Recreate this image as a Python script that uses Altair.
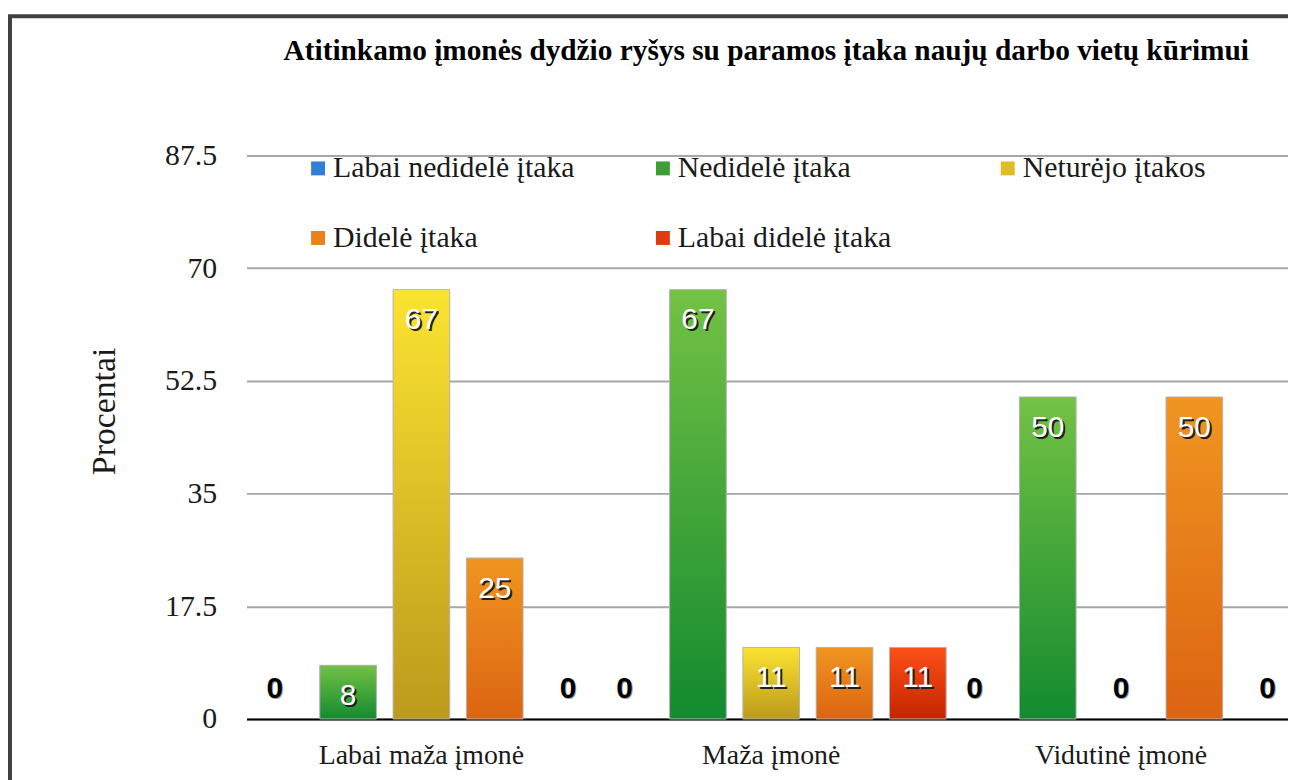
import altair as alt
import pandas as pd

groups = ["Labai maža įmonė", "Maža įmonė", "Vidutinė įmonė"]
series = ["Labai nedidelė įtaka", "Nedidelė įtaka", "Neturėjo įtakos", "Didelė įtaka", "Labai didelė įtaka"]

v_labai_nedidele = [0, 0, 0]
v_nedidele = [8.33, 66.67, 50]
v_neturejo = [66.67, 11.11, 0]
v_didele = [25, 11.11, 50]
v_labai_didele = [0, 11.11, 0]
series_values = [v_labai_nedidele, v_nedidele, v_neturejo, v_didele, v_labai_didele]

legend_colors = ["#2f7fd8", "#3c9e36", "#e0bd26", "#e8821c", "#e03a10"]
colors_top = ["#5aa0ea", "#73c244", "#fbe331", "#f09520", "#fc5018"]
colors_bottom = ["#1c5fb0", "#138a2f", "#bc9a1c", "#dc6412", "#c42400"]
y_ticks = [0, 17.5, 35, 52.5, 70, 87.5]

title_text = "Atitinkamo įmonės dydžio ryšys su paramos įtaka naujų darbo vietų kūrimui"
y_title = "Procentai"

rows = []
for s, vals in zip(series, series_values):
    for g, v in zip(groups, vals):
        rows.append({"group": g, "series": s, "value": v})
df = pd.DataFrame(rows)

SERIF = "Liberation Serif"
SANS = "Liberation Sans"

x_enc = alt.X(
    "group:N",
    sort=groups,
    title=None,
    scale=alt.Scale(domain=groups, range=[0, 1056], paddingInner=0, paddingOuter=0),
    axis=alt.Axis(
        domain=True, domainColor="#000000", domainWidth=2,
        ticks=False, tickSize=0, labelPadding=23, labelAngle=0, labelLimit=600,
        labelFont=SERIF, labelFontSize=28, labelColor="#1a1a1a", grid=False,
    ),
)
xo_enc = alt.XOffset(
    "series:N", sort=series,
    scale=alt.Scale(domain=series, paddingInner=0.227, paddingOuter=0),
)
y_enc = alt.Y(
    "value:Q",
    stack=None,
    title=y_title,
    scale=alt.Scale(domain=[0, 87.5], nice=False, zero=True),
    axis=alt.Axis(
        values=y_ticks, format=".1~f", domain=False, ticks=False, tickSize=0,
        labelPadding=30, labelFont=SERIF, labelFontSize=30, labelColor="#1a1a1a",
        grid=True, gridColor="#a6a6a6", gridWidth=2,
        titleFont=SERIF, titleFontSize=34, titleFontWeight="normal", titleColor="#1a1a1a",
        titleAngle=-90, titleX=-133, titleY=257, titleBaseline="alphabetic", titleAlign="center",
    ),
)

base = alt.Chart(df).encode(x=x_enc, xOffset=xo_enc, y=y_enc)

legend_layer = base.transform_filter("datum.value > 0").mark_bar().encode(
    color=alt.Color(
        "series:N",
        scale=alt.Scale(domain=series, range=legend_colors),
        legend=alt.Legend(
            title=None, orient="none", legendX=57, legendY=-2, columns=3,
            direction="horizontal",
            gridAlign="all", columnPadding=73, rowPadding=40, padding=0,
            symbolType="square", symbolSize=196, symbolStrokeWidth=0,
            labelFont=SERIF, labelFontSize=30, labelColor="#1a1a1a",
            labelOffset=0, labelLimit=600,
        ),
    )
)

layers = [legend_layer]
for s, ct, cb in zip(series, colors_top, colors_bottom):
    grad = alt.Gradient(
        gradient="linear",
        stops=[alt.GradientStop(color=ct, offset=0), alt.GradientStop(color=cb, offset=1)],
        x1=0, x2=0, y1=0, y2=1,
    )
    layers.append(
        base.transform_filter(f"datum.series == '{s}' && datum.value > 0")
        .mark_bar(fill=grad, stroke="#b4b4b4", strokeWidth=1)
    )

label_nonzero = base.transform_filter("datum.value > 0")
layers.append(
    label_nonzero.mark_text(font=SANS, fontSize=30, color="#202020", baseline="middle",
                            align="center", dx=2, dy=33)
    .encode(text=alt.Text("value:Q", format=".0f"))
)
layers.append(
    label_nonzero.mark_text(font=SANS, fontSize=30, color="#ffffff", baseline="middle",
                            align="center", dy=31)
    .encode(text=alt.Text("value:Q", format=".0f"))
)
label_zero = base.transform_filter("datum.value == 0")
layers.append(
    label_zero.mark_text(font=SANS, fontSize=30, fontWeight="bold", color="#9a9a9a",
                         baseline="middle", align="center", dx=1, dy=-29)
    .encode(text=alt.Text("value:Q", format=".0f"))
)
layers.append(
    label_zero.mark_text(font=SANS, fontSize=30, fontWeight="bold", color="#000000",
                         baseline="middle", align="center", dy=-30)
    .encode(text=alt.Text("value:Q", format=".0f"))
)

frame = alt.Chart(pd.DataFrame({"k": [0]})).mark_rect(
    filled=False, stroke="#404040", strokeWidth=4
).encode(
    x=alt.value(-238), x2=alt.value(1400), y=alt.value(-140), y2=alt.value(1000)
)
layers.append(frame)

chart = (
    alt.layer(*layers)
    .properties(
        width=1048,
        height=567,
        padding={"left": 240, "top": 146, "right": 0, "bottom": 59},
        autosize=alt.AutoSizeParams(type="none"),
        title=alt.TitleParams(
            title_text, font=SERIF, fontSize=29.5, fontWeight="bold", color="#000000",
            anchor="middle", frame="group", offset=-75, baseline="alphabetic", dx=-1,
        ),
    )
    .configure(background="white")
    .configure_view(stroke=None)
)

chart.save("out.html", embed_options={"renderer": "svg", "actions": False})
